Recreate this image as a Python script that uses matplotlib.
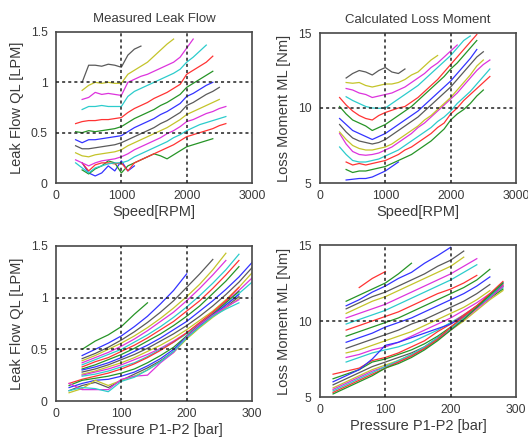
import numpy as np
import matplotlib
matplotlib.use("Agg")
from matplotlib import pyplot as plt

plt.rcParams['font.family'] = ['Liberation Sans', 'DejaVu Sans']

# matlab style colour order (b g r c m y k), a bit washed out like the scan
cols = ['#3333ff', '#269426', '#ff3333', '#2ccccc', '#dd33dd', '#c4c42a', '#5a5a5a']

# ---- top row: curves vs speed, one per pressure level (lowest first) ----
ql_speed = [
    [0.2, 0.1, 0.07, 0.1, 0.17, 0.12, 0.22, 0.12, 0.17],
    [0.13, 0.09, 0.14, 0.17, 0.22, 0.2, 0.1, 0.17, 0.2, 0.23, 0.26, 0.29, 0.27, 0.24, 0.28, 0.32,
     0.36, 0.38, 0.4, 0.42, 0.44],
    [0.2, 0.12, 0.18, 0.2, 0.2, 0.19, 0.2, 0.12, 0.2, 0.23, 0.26, 0.29, 0.32, 0.35, 0.38, 0.42,
     0.46, 0.48, 0.5, 0.52, 0.54, 0.57, 0.59],
    [0.2, 0.15, 0.1, 0.15, 0.17, 0.19, 0.2, 0.2, 0.22, 0.26, 0.29, 0.32, 0.35, 0.38, 0.41, 0.45,
     0.48, 0.52, 0.55, 0.58, 0.6, 0.62, 0.64, 0.66],
    [0.23, 0.2, 0.17, 0.2, 0.22, 0.23, 0.24, 0.26, 0.29, 0.33, 0.36, 0.39, 0.42, 0.45, 0.49, 0.52,
     0.56, 0.61, 0.63, 0.66, 0.69, 0.71, 0.74, 0.76],
    [0.3, 0.27, 0.26, 0.28, 0.29, 0.3, 0.31, 0.33, 0.37, 0.4, 0.43, 0.46, 0.49, 0.52, 0.55, 0.59,
     0.63, 0.68, 0.71, 0.74, 0.77, 0.8, 0.83],
    [0.37, 0.34, 0.34, 0.35, 0.36, 0.37, 0.38, 0.4, 0.43, 0.46, 0.49, 0.52, 0.55, 0.59, 0.62, 0.66,
     0.7, 0.77, 0.8, 0.84, 0.88, 0.91, 0.95],
    [0.43, 0.4, 0.43, 0.43, 0.44, 0.45, 0.46, 0.47, 0.51, 0.55, 0.58, 0.61, 0.64, 0.68, 0.71, 0.75,
     0.79, 0.86, 0.89, 0.93, 0.97, 1.0],
    [0.51, 0.5, 0.52, 0.51, 0.52, 0.53, 0.54, 0.56, 0.6, 0.64, 0.67, 0.7, 0.73, 0.77, 0.8, 0.84,
     0.88, 0.95, 0.99, 1.03, 1.07, 1.11],
    [0.59, 0.61, 0.62, 0.62, 0.63, 0.63, 0.64, 0.65, 0.7, 0.74, 0.77, 0.8, 0.84, 0.87, 0.9, 0.94,
     0.98, 1.08, 1.12, 1.16, 1.2, 1.26],
    [0.73, 0.76, 0.76, 0.77, 0.76, 0.76, 0.76, 0.86, 0.91, 0.94, 0.97, 1.0, 1.03, 1.06, 1.09,
     1.13, 1.2, 1.25, 1.31, 1.37],
    [0.83, 0.85, 0.9, 0.88, 0.89, 0.88, 0.87, 1.0, 1.03, 1.06, 1.08, 1.11, 1.14, 1.17, 1.2, 1.25,
     1.34, 1.43],
    [0.92, 0.97, 1.0, 0.99, 1.0, 0.99, 0.99, 1.08, 1.12, 1.16, 1.2, 1.26, 1.32, 1.38, 1.43],
    [1.0, 1.17, 1.17, 1.16, 1.18, 1.17, 1.15, 1.27, 1.33, 1.36],
]
speed_start_ql = [400, 400, 400, 300, 300, 300, 300, 300, 300, 300, 400, 400, 400, 400]

ml_speed = [
    [5.2, 5.25, 5.3, 5.3, 5.4, 5.6, 5.8, 6.1, 6.4],
    [5.9, 5.7, 5.8, 5.8, 5.9, 6.0, 6.1, 6.3, 6.5, 6.7, 6.9, 7.2, 7.5, 7.8, 8.2, 8.6, 9.2, 9.6,
     9.9, 10.3, 10.8, 11.2],
    [6.4, 6.2, 6.3, 6.2, 6.3, 6.4, 6.5, 6.7, 6.9, 7.2, 7.4, 7.7, 8.0, 8.3, 8.7, 9.0, 9.6, 10.0,
     10.5, 10.9, 11.3, 11.7, 12.1],
    [7.4, 6.9, 6.5, 6.4, 6.4, 6.5, 6.6, 6.8, 7.0, 7.2, 7.5, 7.8, 8.1, 8.4, 8.7, 9.1, 9.4, 9.8,
     10.3, 10.7, 11.1, 11.6, 12.1, 12.6],
    [8.3, 7.6, 7.1, 6.9, 6.85, 6.9, 7.0, 7.2, 7.4, 7.7, 8.0, 8.3, 8.7, 9.0, 9.4, 9.8, 10.2, 10.6,
     11.0, 11.5, 12.0, 12.5, 12.9, 13.2],
    [8.4, 7.9, 7.5, 7.3, 7.2, 7.2, 7.3, 7.4, 7.6, 7.9, 8.2, 8.5, 8.8, 9.2, 9.5, 9.9, 10.3, 10.7,
     11.2, 11.7, 12.2, 12.8, 13.2],
    [8.9, 8.4, 8.0, 7.8, 7.7, 7.6, 7.7, 7.9, 8.2, 8.5, 8.8, 9.1, 9.4, 9.8, 10.2, 10.6, 11.0, 11.4,
     11.9, 12.4, 12.9, 13.4, 13.75],
    [9.3, 8.9, 8.5, 8.3, 8.1, 7.9, 8.1, 8.3, 8.6, 8.9, 9.2, 9.5, 9.8, 10.2, 10.6, 11.0, 11.4, 11.8,
     12.3, 12.8, 13.3, 13.9],
    [10.1, 9.6, 9.2, 9.0, 8.8, 8.5, 8.7, 8.9, 9.2, 9.5, 9.8, 10.1, 10.5, 10.9, 11.3, 11.7, 12.1,
     12.6, 13.0, 13.5, 14.0, 14.5],
    [10.7, 10.2, 9.8, 9.5, 9.3, 9.2, 9.5, 9.7, 9.85, 10.0, 10.1, 10.4, 10.7, 11.1, 11.5, 11.9,
     12.4, 12.9, 13.4, 13.9, 14.4, 14.9],
    [10.75, 10.5, 10.3, 10.1, 10.0, 9.98, 10.0, 10.3, 10.6, 10.9, 11.2, 11.5, 11.9, 12.3, 12.7,
     13.1, 13.5, 14.0, 14.5, 14.8],
    [11.3, 11.2, 11.0, 10.9, 10.7, 10.8, 10.9, 11.0, 11.2, 11.4, 11.7, 12.0, 12.3, 12.7, 13.0,
     13.4, 13.8, 14.2],
    [11.7, 11.65, 11.7, 11.5, 11.4, 11.5, 11.6, 11.6, 11.7, 11.9, 12.2, 12.4, 12.8, 13.2, 13.5],
    [12.0, 12.3, 12.5, 12.4, 12.2, 12.5, 12.7, 12.4, 12.3, 12.6],
]
speed_start_ml = [400, 400, 400, 300, 300, 300, 300, 300, 300, 300, 400, 400, 400, 400]

# ---- bottom row: curves vs pressure, one per speed (top curve first) ----
press_start_ql = [40] * 13 + [20] * 7
ql_press = [
    [0.5, 0.58, 0.64, 0.72, 0.84, 0.95],
    [0.44, 0.5, 0.56, 0.63, 0.72, 0.82, 0.94, 1.07, 1.23],
    [0.41, 0.46, 0.52, 0.59, 0.67, 0.76, 0.86, 0.97, 1.1, 1.23, 1.37],
    [0.39, 0.44, 0.5, 0.56, 0.63, 0.71, 0.8, 0.9, 1.01, 1.13, 1.27, 1.43],
    [0.37, 0.42, 0.47, 0.53, 0.6, 0.68, 0.77, 0.86, 0.97, 1.09, 1.22, 1.36],
    [0.35, 0.4, 0.45, 0.5, 0.57, 0.64, 0.72, 0.81, 0.91, 1.02, 1.14, 1.27, 1.42],
    [0.33, 0.38, 0.42, 0.48, 0.54, 0.61, 0.69, 0.77, 0.87, 0.97, 1.09, 1.22, 1.36],
    [0.31, 0.35, 0.4, 0.45, 0.51, 0.58, 0.65, 0.73, 0.82, 0.92, 1.04, 1.16, 1.3],
    [0.3, 0.33, 0.37, 0.42, 0.48, 0.54, 0.61, 0.69, 0.77, 0.87, 0.97, 1.08, 1.2, 1.34],
    [0.28, 0.31, 0.35, 0.4, 0.45, 0.51, 0.58, 0.65, 0.73, 0.82, 0.92, 1.03, 1.15, 1.29],
    [0.26, 0.29, 0.33, 0.37, 0.42, 0.48, 0.54, 0.61, 0.69, 0.78, 0.87, 0.98, 1.1, 1.24],
    [0.25, 0.28, 0.31, 0.35, 0.4, 0.45, 0.51, 0.58, 0.66, 0.75, 0.85, 0.96, 1.07, 1.19],
    [0.24, 0.26, 0.29, 0.33, 0.37, 0.43, 0.5, 0.57, 0.65, 0.74, 0.83, 0.93, 1.04, 1.15],
    [0.17, 0.21, 0.24, 0.27, 0.31, 0.36, 0.42, 0.49, 0.57, 0.66, 0.76, 0.86, 0.97, 1.1],
    [0.15, 0.2, 0.22, 0.24, 0.27, 0.31, 0.37, 0.44, 0.52, 0.63, 0.74, 0.84, 0.95, 1.06],
    [0.13, 0.17, 0.2, 0.21, 0.24, 0.28, 0.34, 0.41, 0.5, 0.62, 0.73, 0.83, 0.93, 1.03],
    [0.1, 0.15, 0.18, 0.13, 0.2, 0.26, 0.32, 0.39, 0.48, 0.61, 0.72, 0.82, 0.91, 1.01],
    [0.08, 0.12, 0.2, 0.15, 0.2, 0.24, 0.3, 0.38, 0.47, 0.6, 0.71, 0.81, 0.9, 0.99],
    [0.17, 0.11, 0.11, 0.11, 0.21, 0.24, 0.25, 0.37, 0.47, 0.62, 0.74, 0.83, 0.91, 0.98],
    [0.1, 0.13, 0.12, 0.09, 0.19, 0.23, 0.3, 0.38, 0.48, 0.61, 0.72, 0.82, 0.89, 0.95],
]

press_start_ml = [60] + [40] * 13 + [20] * 9
ml_press = [
    [12.2, 12.8, 13.25],
    [11.3, 11.7, 12.1, 12.5, 13.1, 13.8],
    [11.0, 11.4, 11.9, 12.3, 12.8, 13.2, 13.8, 14.3, 14.85],
    [10.8, 11.2, 11.6, 11.9, 12.3, 12.7, 13.1, 13.6, 14.0, 14.6],
    [10.5, 10.9, 11.3, 11.6, 12.0, 12.4, 12.8, 13.2, 13.6, 14.2],
    [10.2, 10.5, 10.8, 11.1, 11.5, 11.9, 12.3, 12.7, 13.1, 13.6, 14.1],
    [9.8, 10.1, 10.4, 10.7, 11.1, 11.5, 11.9, 12.3, 12.7, 13.2, 13.7],
    [9.4, 9.7, 10.0, 10.3, 10.6, 11.0, 11.4, 11.8, 12.1, 12.5, 13.0],
    [9.0, 9.3, 9.6, 9.9, 10.2, 10.6, 11.0, 11.4, 11.8, 12.2, 12.7, 13.4],
    [8.6, 8.9, 9.2, 9.6, 9.9, 10.2, 10.6, 11.0, 11.4, 11.8, 12.3, 12.9],
    [8.2, 8.5, 8.8, 9.1, 9.4, 9.8, 10.1, 10.5, 10.9, 11.3, 11.8, 12.4],
    [7.9, 8.1, 8.4, 8.7, 9.0, 9.3, 9.7, 10.1, 10.5, 10.9, 11.4, 12.0],
    [7.6, 7.8, 8.1, 8.3, 8.6, 9.0, 9.4, 9.8, 10.2, 10.7, 11.2, 11.8, 12.3],
    [7.3, 7.6, 7.9, 8.1, 8.3, 8.6, 9.0, 9.4, 9.9, 10.4, 11.0, 11.6, 12.2],
    [6.5, 6.7, 6.9, 7.4, 7.6, 7.9, 8.3, 8.7, 9.3, 9.8, 10.4, 11.0, 11.7, 12.4],
    [6.2, 6.5, 6.8, 7.3, 7.5, 7.8, 8.1, 8.5, 9.0, 9.6, 10.2, 10.9, 11.5, 12.1],
    [6.0, 6.4, 6.8, 7.5, 8.4, 8.6, 8.9, 9.2, 9.5, 9.8, 10.3, 10.9, 11.6, 12.5],
    [5.8, 6.2, 6.6, 7.0, 7.3, 7.6, 7.9, 8.3, 8.9, 9.5, 10.2, 10.9, 11.6, 12.3],
    [5.6, 6.0, 6.4, 6.8, 7.1, 7.4, 7.8, 8.2, 8.8, 9.4, 10.0, 10.7, 11.4, 12.0],
    [5.5, 5.9, 6.3, 6.7, 7.0, 7.3, 7.7, 8.2, 8.8, 9.4, 10.1, 10.8, 11.5, 12.3],
    [5.4, 5.8, 6.2, 6.6, 7.0, 7.4, 7.8, 8.3, 8.9, 9.5, 10.2, 10.9, 11.6, 12.5],
    [5.3, 5.7, 6.1, 6.5, 6.9, 7.3, 7.7, 8.2, 8.8, 9.6, 10.3, 11.0, 11.8, 12.6],
    [5.2, 5.6, 6.0, 6.4, 6.9, 7.2, 7.6, 8.1, 8.7, 9.4, 10.1, 10.9, 11.7, 12.5],
]

titles = ['Measured Leak Flow', 'Calculated Loss Moment']
ylabels = ['Leak Flow QL [LPM]', 'Loss Moment ML [Nm]']
xlabels = ['Speed[RPM]', 'Pressure P1-P2 [bar]']

txt = '#3a3a3a'
W, H = 528, 438
fig = plt.figure(figsize=(W / 100, H / 100), dpi=100)


def px_axes(x0, y0, x1, y1):
    return fig.add_axes([x0 / W, 1 - y1 / H, (x1 - x0) / W, (y1 - y0) / H])


def style(ax, xlim, xt, ylim, yt, ytl):
    ax.set_xlim(xlim)
    ax.set_ylim(ylim)
    ax.set_xticks(xt)
    ax.set_yticks(yt)
    ax.set_yticklabels(ytl)
    ax.tick_params(length=0, labelsize=8.8, colors=txt)
    ax.tick_params(axis='x', pad=5)
    ax.tick_params(axis='y', pad=6)
    for s in ax.spines.values():
        s.set_color('#484848')
        s.set_linewidth(1.2)
    # matlab grid on: dotted black lines at the inner ticks
    for v in xt[1:-1]:
        ax.axvline(v, color='#222222', lw=1.1, ls=(0, (2, 2)), zorder=3)
    for v in yt[1:-1]:
        ax.axhline(v, color='#222222', lw=1.1, ls=(0, (2, 2)), zorder=3)


def speed_curves(ax, starts, data):
    for i, (s, vals) in enumerate(zip(starts, data)):
        rpm = np.arange(len(vals)) * 100 + s
        ax.plot(rpm, vals, color=cols[i % 7], lw=0.9)


def press_curves(ax, starts, data, offset):
    for i, (s, vals) in enumerate(zip(starts, data)):
        p = np.arange(len(vals)) * 20 + s
        ax.plot(p, vals, color=cols[(offset - i) % 7], lw=0.9)


ax1 = px_axes(56, 32, 252, 183)
speed_curves(ax1, speed_start_ql, ql_speed)
style(ax1, (0, 3000), [0, 1000, 2000, 3000], (0, 1.5), [0, 0.5, 1, 1.5], ['0', '0.5', '1', '1.5'])

ax2 = px_axes(320, 33, 516, 183)
speed_curves(ax2, speed_start_ml, ml_speed)
style(ax2, (0, 3000), [0, 1000, 2000, 3000], (5, 15), [5, 10, 15], ['5', '10', '15'])

ax3 = px_axes(56, 246, 252, 401)
press_curves(ax3, press_start_ql, ql_press, 1)
style(ax3, (0, 300), [0, 100, 200, 300], (0, 1.5), [0, 0.5, 1, 1.5], ['0', '0.5', '1', '1.5'])

ax4 = px_axes(320, 245, 516, 397)
press_curves(ax4, press_start_ml, ml_press, 2)
style(ax4, (0, 300), [0, 100, 200, 300], (5, 15), [5, 10, 15], ['5', '10', '15'])

for ax, t in zip([ax1, ax2], titles):
    ax.set_title(t, fontsize=9.5, color=txt, pad=7)
for ax in [ax1, ax3]:
    ax.set_ylabel(ylabels[0], fontsize=10.5, color=txt, labelpad=5)
for ax in [ax2, ax4]:
    ax.set_ylabel(ylabels[1], fontsize=10.5, color=txt, labelpad=5)
for ax in [ax1, ax2]:
    ax.set_xlabel(xlabels[0], fontsize=10.5, color=txt, labelpad=2)
for ax in [ax3, ax4]:
    ax.set_xlabel(xlabels[1], fontsize=10.5, color=txt, labelpad=2)

fig.savefig('out.png', dpi=100)
